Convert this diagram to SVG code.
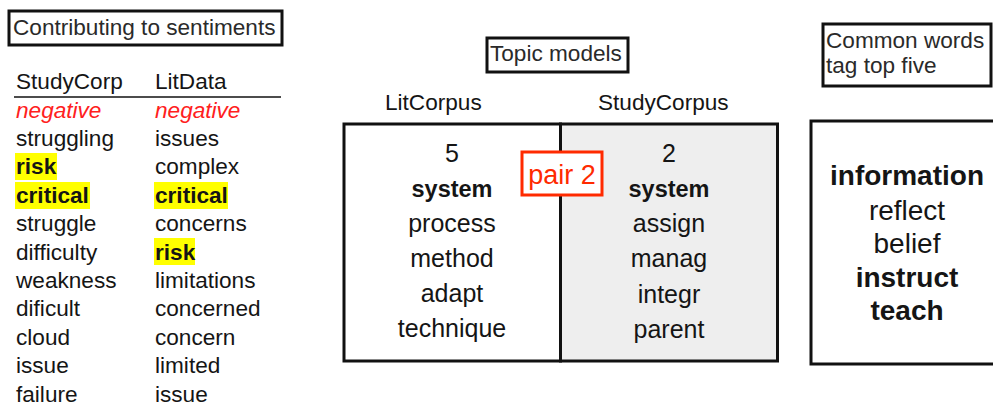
<svg xmlns="http://www.w3.org/2000/svg" width="993" height="407" viewBox="0 0 993 407">
<style>
text{font-family:"Liberation Sans",Arial,Helvetica,sans-serif;fill:#151515}
.l{font-size:22.6px}
.t{font-size:25px;text-anchor:middle}
.tb{font-size:23.5px;font-weight:bold;text-anchor:middle}
.w{font-size:28px;text-anchor:middle}
.b{font-weight:bold}
.neg{fill:#ff2020;font-style:italic}
.box{fill:#fff;stroke:#111;stroke-width:3}
.hl{fill:#ffff00}
.gr{fill:#2a2a2a}
</style>
<rect width="993" height="407" fill="#fff"/>

<g id="sentiments-title">
<rect class="box" x="9" y="11" width="273" height="34"/>
<text class="l gr" x="13" y="35">Contributing to sentiments</text>
</g>

<g id="sentiment-table">
<rect class="hl" x="15" y="153" width="42" height="27"/>
<rect class="hl" x="15" y="182" width="75" height="27"/>
<rect class="hl" x="154" y="182" width="74" height="27"/>
<rect class="hl" x="154" y="238" width="41" height="27"/>
<text class="l" x="16" y="89">StudyCorp</text>
<text class="l" x="155" y="89">LitData</text>
<line x1="14" y1="97" x2="281" y2="97" stroke="#111" stroke-width="1.5"/>
<g>
<text class="l neg" x="16" y="117.5">negative</text>
<text class="l" x="16" y="145.9">struggling</text>
<text class="l b" x="16" y="174.3">risk</text>
<text class="l b" x="16" y="202.7">critical</text>
<text class="l" x="16" y="231.1">struggle</text>
<text class="l" x="16" y="259.5">difficulty</text>
<text class="l" x="16" y="287.9">weakness</text>
<text class="l" x="16" y="316.3">dificult</text>
<text class="l" x="16" y="344.7">cloud</text>
<text class="l" x="16" y="373.1">issue</text>
<text class="l" x="16" y="401.5">failure</text>
<text class="l neg" x="155" y="117.5">negative</text>
<text class="l" x="155" y="145.9">issues</text>
<text class="l" x="155" y="174.3">complex</text>
<text class="l b" x="155" y="202.7">critical</text>
<text class="l" x="155" y="231.1">concerns</text>
<text class="l b" x="155" y="259.5">risk</text>
<text class="l" x="155" y="287.9">limitations</text>
<text class="l" x="155" y="316.3">concerned</text>
<text class="l" x="155" y="344.7">concern</text>
<text class="l" x="155" y="373.1">limited</text>
<text class="l" x="155" y="401.5">issue</text>
</g>
</g>

<g id="topic-models-title">
<rect class="box" x="487" y="38" width="141" height="34"/>
<text class="l gr" x="490" y="61">Topic models</text>
</g>

<g id="litcorpus-topic">
<text class="l" x="385" y="110">LitCorpus</text>
<rect class="box" x="344" y="124" width="216.5" height="237"/>
<text class="t" x="452" y="162">5</text>
<text class="tb" x="452" y="197">system</text>
<text class="t" x="452" y="232">process</text>
<text class="t" x="452" y="267">method</text>
<text class="t" x="452" y="302">adapt</text>
<text class="t" x="452" y="337">technique</text>
</g>

<g id="studycorpus-topic">
<text class="l" x="598" y="110">StudyCorpus</text>
<rect x="560.5" y="124" width="217" height="237" fill="#eeeeee" stroke="#111" stroke-width="3"/>
<text class="t" x="669" y="162">2</text>
<text class="tb" x="669" y="197">system</text>
<text class="t" x="669" y="232">assign</text>
<text class="t" x="669" y="267">manag</text>
<text class="t" x="669" y="303">integr</text>
<text class="t" x="669" y="338">parent</text>
</g>

<g id="pair-label">
<rect x="522" y="152" width="80" height="43" fill="#fff" stroke="#ff2a00" stroke-width="3"/>
<text x="562" y="184" font-size="27" text-anchor="middle" style="fill:#ff2a00">pair 2</text>
</g>

<g id="common-words-title">
<rect class="box" x="823" y="24" width="168" height="62"/>
<text class="l gr" x="826" y="48">Common words</text>
<text class="l gr" x="826" y="73">tag top five</text>
</g>

<g id="common-words">
<rect class="box" x="811" y="121" width="200" height="243"/>
<text class="w b" x="907" y="185">information</text>
<text class="w" x="907" y="220">reflect</text>
<text class="w" x="907" y="253">belief</text>
<text class="w b" x="907" y="287">instruct</text>
<text class="w b" x="907" y="320">teach</text>
</g>

<g id="connectors"></g>
</svg>
